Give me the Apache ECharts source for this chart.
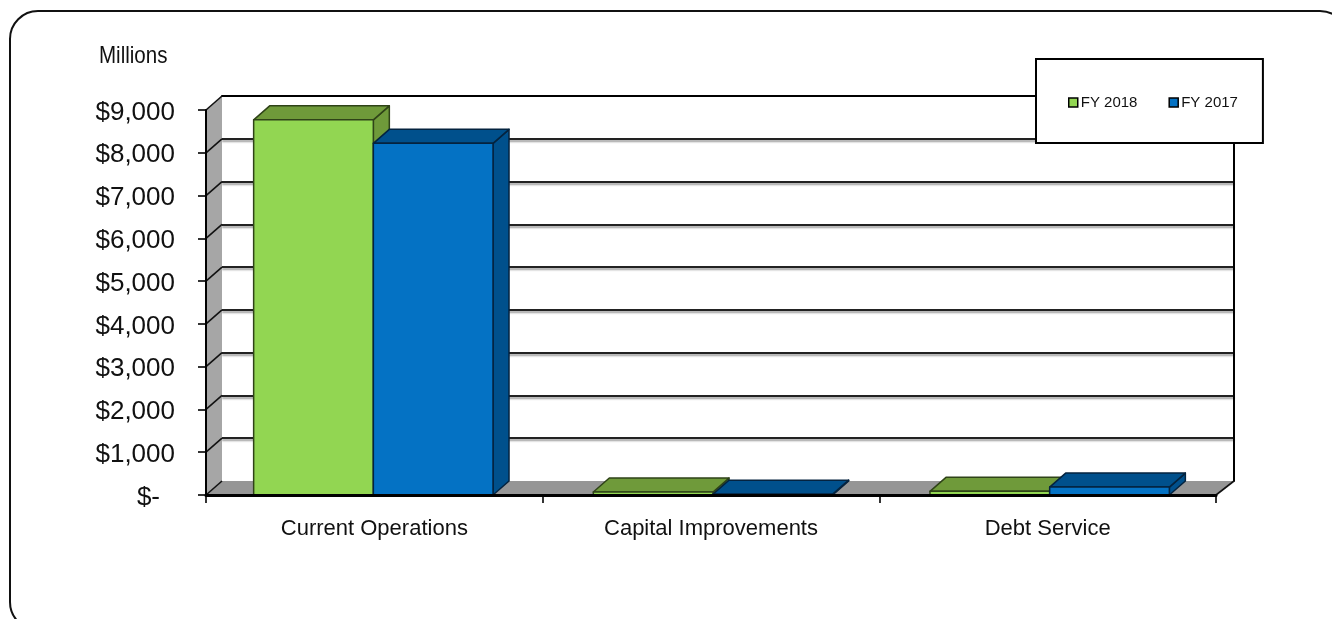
<!DOCTYPE html>
<html>
<head>
<meta charset="utf-8">
<style>html,body{margin:0;padding:0;background:#fff}#chart{width:1332px;height:619px}</style>
<script src="https://cdn.jsdelivr.net/npm/echarts@6/dist/echarts.min.js"></script>
</head>
<body>
<div id="chart"></div>
<script>
// Budget by category, in millions of dollars
var categories = ['Current Operations', 'Capital Improvements', 'Debt Service'];
var fy2018 = [8770, 70, 85];
var fy2017 = [8220, 20, 185];
var valueTicks = [0, 1000, 2000, 3000, 4000, 5000, 6000, 7000, 8000, 9000];
var tickLabels = ['$-', '$1,000', '$2,000', '$3,000', '$4,000', '$5,000', '$6,000', '$7,000', '$8,000', '$9,000'];

// Pseudo-3D box depth in pixels; the back grid is the front grid shifted by this much
var DX = 16, DY = 14;
var FONT = '"Liberation Sans", Arial, sans-serif';
// Small horizontal adjustment of each cluster inside its band
var clusterShift = [-1, 2, 2];

function poly(points, fill, stroke, width) {
  return {
    type: 'polygon',
    shape: { points: points },
    style: { fill: fill, stroke: stroke, lineWidth: width, lineJoin: 'round' }
  };
}

// One box: front face plus top and side faces
function boxRenderer(slot, front, top, side, edge) {
  return function (params, api) {
    var band = api.size([1, 0])[0];
    var centre = api.coord([api.value(0), 0])[0] + clusterShift[params.dataIndex];
    var w = band * 0.3555;
    var x0 = centre + (slot === 0 ? -w : 0);
    var x1 = x0 + w;
    var y0 = api.coord([0, 0])[1];
    var y1 = api.coord([0, api.value(1)])[1];
    return {
      type: 'group',
      children: [
        poly([[x1, y1], [x1 + DX, y1 - DY], [x1 + DX, y0 - DY], [x1, y0]], side, edge, 1.5),
        poly([[x0, y1], [x0 + DX, y1 - DY], [x1 + DX, y1 - DY], [x1, y1]], top, edge, 1.5),
        poly([[x0, y1], [x1, y1], [x1, y0], [x0, y0]], front, edge, 1.5)
      ]
    };
  };
}

// Left wall and floor of the plot box, with a diagonal at every value tick
function shellRenderer(params, api) {
  var v = api.value(0);
  var left = api.coord([0, v]);
  var gridLeft = params.coordSys.x;
  var gridRight = gridLeft + params.coordSys.width;
  var y = left[1];
  var children = [
    { type: 'line', shape: { x1: gridLeft, y1: y, x2: gridLeft + DX, y2: y - DY },
      style: { stroke: '#111', lineWidth: 1.6 }, z2: 3 }
  ];
  if (params.dataIndex === 0) {
    var top = api.coord([0, 9000])[1];
    children.unshift(
      poly([[gridLeft, y], [gridLeft + DX, y - DY], [gridLeft + DX, top - DY], [gridLeft, top]], '#a6a6a6', '#a6a6a6', 0),
      poly([[gridLeft, y], [gridLeft + DX, y - DY], [gridRight + DX + 2, y - DY], [gridRight, y]], '#969696', '#969696', 0)
    );
    children.push(
      { type: 'line', shape: { x1: gridRight, y1: y, x2: gridRight + DX + 2, y2: y - DY },
        style: { stroke: '#111', lineWidth: 1.6 }, z2: 3 }
    );
  }
  return { type: 'group', children: children };
}

var chart = echarts.init(document.getElementById('chart'), null, { renderer: 'canvas' });
chart.setOption({
  animation: false,
  backgroundColor: '#fff',
  textStyle: { fontFamily: FONT },
  graphic: [
    { type: 'rect', z: -10, shape: { x: 10, y: 11, width: 1338, height: 619, r: 28 },
      style: { fill: '#fff', stroke: '#111', lineWidth: 2 } },
    { type: 'text', z: 20, x: 99, y: 44, scaleX: 0.855,
      style: { text: 'Millions', fill: '#111', font: '24px ' + FONT } }
  ],
  legend: {
    left: 1036, top: 59, z: 10,
    orient: 'horizontal',
    padding: [36, 25, 33, 32],
    itemGap: 31, itemWidth: 9, itemHeight: 9,
    backgroundColor: '#fff', borderColor: '#000', borderWidth: 2,
    textStyle: { fontSize: 15, color: '#111', fontFamily: FONT, padding: [0, 0, 0, -2] },
    data: [
      { name: 'FY 2018', icon: 'rect', itemStyle: { color: '#92d652', borderColor: '#000', borderWidth: 1.5 } },
      { name: 'FY 2017', icon: 'rect', itemStyle: { color: '#0472c4', borderColor: '#000', borderWidth: 1.5 } }
    ]
  },
  grid: [
    { left: 206, right: 116, top: 110, height: 385 },
    { left: 206 + DX, right: 116 - DX - 2, top: 110 - DY, height: 385 }
  ],
  xAxis: [
    {
      type: 'category', gridIndex: 0, data: categories, boundaryGap: true,
      axisLine: { show: true, lineStyle: { color: '#000', width: 3 } },
      axisTick: { show: true, alignWithLabel: false, length: 8, lineStyle: { color: '#000', width: 1.6 } },
      axisLabel: { color: '#111', fontSize: 22, fontFamily: FONT, margin: 23 },
      z: 5
    },
    {
      type: 'category', gridIndex: 1, data: categories, position: 'top',
      axisLine: { show: true, onZero: false, lineStyle: { color: '#000', width: 2 } },
      axisTick: { show: false }, axisLabel: { show: false }
    }
  ],
  yAxis: [
    {
      type: 'value', gridIndex: 0, min: 0, max: 9000, interval: 1000,
      axisLine: { show: true, lineStyle: { color: '#000', width: 2 } },
      axisTick: { show: true, length: 8, lineStyle: { color: '#000', width: 1.6 } },
      splitLine: { show: false },
      axisLabel: {
        margin: 31, color: '#111', fontSize: 26, fontFamily: FONT, padding: [5, 0, 0, 0],
        formatter: function (v) {
          var text = tickLabels[valueTicks.indexOf(v)];
          return v === 0 ? '{pad|' + text + '}' : text;
        },
        rich: { pad: { fontSize: 26, color: '#111', fontFamily: FONT, padding: [0, 15, 0, 0] } }
      },
      z: 5
    },
    {
      type: 'value', gridIndex: 1, min: 0, max: 9000, interval: 1000, position: 'right',
      axisLine: { show: true, onZero: false, lineStyle: { color: '#000', width: 2 } },
      axisTick: { show: false }, axisLabel: { show: false },
      splitLine: {
        show: true, showMinLine: false, showMaxLine: false,
        lineStyle: { color: '#222', width: 2, shadowColor: '#999', shadowBlur: 2, shadowOffsetY: 2 }
      }
    }
  ],
  series: [
    {
      type: 'custom', name: 'shell', xAxisIndex: 0, yAxisIndex: 0, z: 1, silent: true,
      coordinateSystem: 'cartesian2d', clip: false,
      renderItem: shellRenderer,
      encode: { x: 1, y: 0 },
      data: valueTicks.map(function (v) { return [v, 0]; })
    },
    {
      type: 'custom', name: 'FY 2018', xAxisIndex: 0, yAxisIndex: 0, z: 2, clip: false,
      itemStyle: { color: '#92d652' },
      renderItem: boxRenderer(0, '#92d652', '#6f9a3a', '#6f9a3a', '#2f4318'),
      encode: { x: 0, y: 1 },
      data: fy2018.map(function (v, i) { return [i, v]; })
    },
    {
      type: 'custom', name: 'FY 2017', xAxisIndex: 0, yAxisIndex: 0, z: 3, clip: false,
      itemStyle: { color: '#0472c4' },
      renderItem: boxRenderer(1, '#0472c4', '#00508c', '#00508c', '#04233f'),
      encode: { x: 0, y: 1 },
      data: fy2017.map(function (v, i) { return [i, v]; })
    }
  ]
});
</script>
</body>
</html>
